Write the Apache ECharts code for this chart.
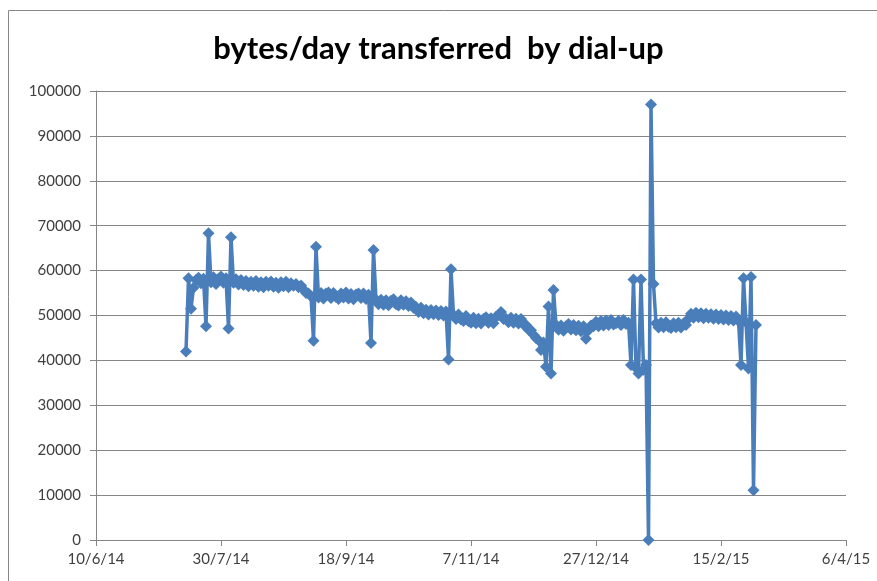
<!DOCTYPE html>
<html>
<head>
<meta charset="utf-8">
<script src="https://cdn.jsdelivr.net/npm/echarts@6/dist/echarts.min.js"></script>
<style>html,body{margin:0;padding:0;background:#fff}#c{width:877px;height:581px}</style>
</head>
<body>
<div id="c"></div>
<script>
// Chart text
const titleText = 'bytes/day transferred  by dial-up';
// X axis (dates, d/m/yy) — axis starts at 10/6/14, ticks every 50 days
const axisStart = '2014-06-10';
const axisEnd = '2015-04-06';
const tickStepDays = 50;
// Y axis
const yMin = 0, yMax = 100000, yStep = 10000;
// Daily series: first value is on startDate, one value per day after it
const startDate = '2014-07-16';
const bytesPerDay = [
  42000, 58300, 51500, 56200, 57900, 58400, 57200, 58200, 47600, 68300,
  57400, 58500, 57000, 58200, 58700, 57300, 58300, 47100, 67400, 57300,
  58100, 56900, 57900, 56800, 57700, 56500, 57500, 56600, 57700, 56400,
  57400, 56300, 57500, 56600, 57600, 56400, 57300, 56200, 57400, 56500,
  57500, 56300, 57200, 56600, 57000, 56300, 56700, 55800, 55000, 54900,
  54300, 44400, 65300, 54000, 55000, 53800, 54900, 55100, 53900, 55000,
  54100, 53700, 54900, 54000, 55100, 53800, 54800, 53600, 54700, 54900,
  53900, 54900, 53700, 54600, 43900, 64600, 53500, 52500, 53500, 52400,
  53400, 52300, 53300, 53600, 52500, 52200, 53400, 52400, 53200, 52100,
  52900, 51700, 51900, 50800, 51700, 50500, 51300, 50200, 51200, 50300,
  51100, 50100, 51000, 50000, 50900, 40200, 60300, 50100, 49200, 50200,
  49100, 48800, 49900, 48700, 48400, 49500, 48300, 49300, 48200, 49200,
  49600, 48400, 49400, 48300, 49700, 50100, 50800, 49200, 49300, 48500,
  49500, 48400, 49300, 48200, 49200, 48000, 47900, 46800, 46700, 45700,
  45000, 44500, 42300, 44000, 38600, 52000, 37100, 55700, 47900, 46800,
  47800, 46600, 47600, 48100, 46900, 47900, 46700, 47700, 46500, 47600,
  44800, 46700, 47800, 47600, 48600, 47600, 48800, 47800, 48900, 47900,
  49000, 48000, 48300, 48800, 47900, 49000, 48100, 48400, 39000, 58000,
  38300, 37100, 58000, 37900, 39000, 0, 97000, 57000, 48300, 47300,
  48400, 47400, 48500, 47500, 47200, 48300, 47400, 48400, 47300, 48200,
  47900, 49300, 50400, 49500, 50600, 49600, 50500, 49400, 50400, 49500,
  50300, 49300, 50200, 49200, 50100, 49100, 50000, 49000, 49900, 48900,
  49800, 48800, 39000, 58300, 48500, 38200, 58600, 11100, 47900
];

const DAY = 86400000;
function utc(s){ const p = s.split('-').map(Number); return Date.UTC(p[0], p[1]-1, p[2]); }
const t0 = utc(axisStart);
const spanDays = Math.round((utc(axisEnd) - t0) / DAY);
const firstOffset = Math.round((utc(startDate) - t0) / DAY);
const seriesData = bytesPerDay.map((v, i) => [firstOffset + i, v]);
function fmtDate(off){
  const d = new Date(t0 + off * DAY);
  return d.getUTCDate() + '/' + (d.getUTCMonth()+1) + '/' + String(d.getUTCFullYear()).slice(2);
}

const axisGray = '#868686';
const labelColor = '#404040';
const font = 'Lato, "Open Sans", sans-serif';
const blue = '#4a7ebb';

const chart = echarts.init(document.getElementById('c'), null, {renderer: 'canvas'});
chart.setOption({
  animation: false,
  backgroundColor: '#fff',
  title: {
    text: titleText,
    left: 'center',
    top: 28,
    textStyle: {fontFamily: font, fontWeight: 'bold', fontSize: 31, color: '#000'}
  },
  graphic: [{
    type: 'rect',
    shape: {x: 8.5, y: 10.5, width: 900, height: 600},
    style: {fill: 'none', stroke: '#878787', lineWidth: 1},
    silent: true
  }],
  grid: {left: 96, right: 31, top: 91, bottom: 41, containLabel: false},
  xAxis: {
    type: 'value',
    min: 0,
    max: spanDays,
    interval: tickStepDays,
    axisLine: {show: true, lineStyle: {color: axisGray, width: 1}},
    axisTick: {show: true, inside: false, length: 6, lineStyle: {color: axisGray}},
    splitLine: {show: false},
    axisLabel: {
      formatter: fmtDate,
      margin: 12,
      fontFamily: font, fontSize: 15, color: labelColor
    }
  },
  yAxis: {
    type: 'value',
    min: yMin, max: yMax, interval: yStep,
    axisLine: {show: true, lineStyle: {color: axisGray, width: 1}},
    axisTick: {show: true, inside: false, length: 6, lineStyle: {color: axisGray}},
    splitLine: {show: true, lineStyle: {color: axisGray, width: 1}},
    axisLabel: {
      formatter: v => String(v),
      margin: 15, fontFamily: font, fontSize: 15, color: labelColor
    }
  },
  series: [{
    type: 'line',
    data: seriesData,
    showAllSymbol: true,
    symbol: 'diamond',
    symbolSize: 12,
    lineStyle: {color: blue, width: 3.5},
    itemStyle: {color: blue},
    emphasis: {disabled: true}
  }]
});
</script>
</body>
</html>
